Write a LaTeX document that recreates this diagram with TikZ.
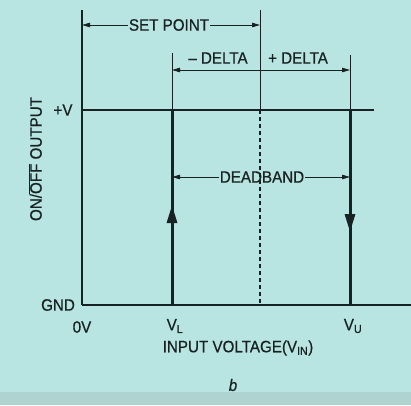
\documentclass[tikz,border=0pt]{standalone}
\usepackage{fontspec}
\setmainfont{Liberation Sans}[FakeStretch=0.92, FakeBold=0.6]
\usepackage{tikz}
\usetikzlibrary{arrows.meta}
\definecolor{paper}{RGB}{184,229,225}
\definecolor{ink}{RGB}{24,34,34}

\begin{document}
\begin{tikzpicture}[
  x=1pt, y=-1pt,
  >={Triangle[length=8pt,width=4.5pt]},
  lbl/.style={font=\fontsize{16.5}{19}\selectfont, text=ink, inner sep=1pt},
  axisline/.style={draw=ink, line width=1.4pt},
  rail/.style={draw=ink, line width=2.6pt},
  swing/.style={draw=ink, line width=3pt},
  guide/.style={draw=ink, line width=0.8pt},
  dim/.style={guide, ->},
  midline/.style={draw=ink, line width=2pt, dash pattern=on 4pt off 3pt},
  flow/.style={swing, -{Triangle[length=18pt,width=10pt]}}
]

\fill[paper] (0,0) rectangle (411,405);
\fill[paper!82!gray] (0,392) rectangle (411,405);
\useasboundingbox (0,0) rectangle (411,405);

% axes and output levels
\coordinate (o) at (82,305);
\coordinate (ytop) at (82,10);
\coordinate (xend) at (411,305);
\coordinate (hi) at (82,110);
\coordinate (hiend) at (374,110);
\draw[axisline] (ytop) -- (o);
\draw[rail] (o) -- (xend);
\draw[rail] (hi) -- (hiend);

% switching points
\coordinate (vl) at (172,305);
\coordinate (vlmid) at (172,205);
\coordinate (vltop) at (172,110);
\coordinate (vlext) at (172,53);
\coordinate (vu) at (350,305);
\coordinate (vumid) at (350,232);
\coordinate (vutop) at (350,110);
\coordinate (vuext) at (350,55);
\draw[swing] (vl) -- (vltop);
\draw[flow] (vl) -- (vlmid);
\draw[swing] (vutop) -- (vu);
\draw[flow] (vutop) -- (vumid);
\draw[guide] (vlext) -- (vltop);
\draw[guide] (vuext) -- (vutop);

% set point
\coordinate (sp) at (260,305);
\coordinate (spmid) at (260,110);
\coordinate (sptop) at (260,10);
\draw[guide] (sptop) -- (spmid);
\draw[midline] (spmid) -- (sp);

% dimension arrows
\node[lbl] (setpt) at (169,25) {SET POINT};
\coordinate (setL) at (82,25);
\coordinate (setR) at (260,25);
\draw[dim] (setpt) -- (setL);
\draw[dim] (setpt) -- (setR);

\node[lbl] (mdelta) at (218,58) {\textendash\ DELTA};
\node[lbl] (pdelta) at (298,58) {+ DELTA};
\coordinate (dL) at (172,70);
\coordinate (dR) at (350,70);
\draw[guide, <->] (dL) -- (dR);

\node[lbl] (dband) at (262,177) {DEADBAND};
\coordinate (dbL) at (172,177);
\coordinate (dbR) at (350,177);
\draw[dim] (dband) -- (dbL);
\draw[dim] (dband) -- (dbR);

% axis labels
\node[lbl] (plusv) at (63,110) {+V};
\node[lbl] (gnd) at (58,305) {GND};
\node[lbl] (zero) at (82,327) {0V};
\node[lbl] (vllbl) at (175,326) {V\textsubscript{L}};
\node[lbl] (vulbl) at (353,326) {V\textsubscript{U}};
\node[lbl] (xlbl) at (238,348) {INPUT VOLTAGE(V\textsubscript{IN})};
\node[lbl, rotate=90] (ylbl) at (35,159) {ON/$\overline{\mbox{OFF}}$ OUTPUT};
\node[lbl, font=\fontsize{16.5}{19}\selectfont\itshape] (cap) at (233,385) {b};
\end{tikzpicture}
\end{document}
